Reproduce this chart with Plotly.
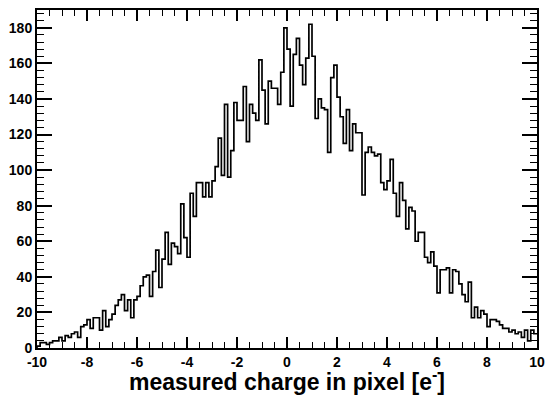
import plotly.graph_objects as go

bin_low = -10.0
bin_width = 0.125
counts = [
    1, 3, 3, 2, 3, 4, 4, 6,            # -10 .. -9
    4, 7, 6, 8, 9, 6, 12, 13,          # -9 .. -8
    16, 11, 17, 17, 10, 21, 12, 16,    # -8 .. -7
    19, 24, 27, 30, 21, 27, 17, 27,    # -7 .. -6
    29, 35, 40, 41, 29, 43, 55, 34,    # -6 .. -5
    50, 65, 47, 59, 57, 53, 81, 62,    # -5 .. -4
    51, 87, 74, 93, 93, 85, 93, 85,    # -4 .. -3
    94, 102, 118, 97, 137, 96, 111, 138,   # -3 .. -2
    128, 128, 147, 116, 137, 132, 128, 162,  # -2 .. -1
    145, 126, 150, 146, 146, 137, 155, 180,  # -1 .. 0
    168, 136, 165, 174, 159, 148, 163, 182,  # 0 .. 1
    164, 129, 140, 135, 134, 110, 152, 159,  # 1 .. 2
    141, 130, 115, 134, 111, 126, 121, 121,  # 2 .. 3
    86, 110, 113, 110, 108, 109, 93, 89,     # 3 .. 4
    94, 106, 87, 74, 93, 83, 67, 79,         # 4 .. 5
    77, 60, 65, 65, 51, 48, 54, 46,          # 5 .. 6
    31, 44, 44, 45, 31, 44, 43, 36,          # 6 .. 7
    30, 26, 37, 17, 23, 17, 21, 19,          # 7 .. 8
    12, 16, 16, 15, 13, 11, 11, 9,           # 8 .. 9
    10, 8, 9, 6, 10, 4, 10, 8,               # 9 .. 10
]
x_ticks = [-10, -8, -6, -4, -2, 0, 2, 4, 6, 8, 10]
y_ticks = [0, 20, 40, 60, 80, 100, 120, 140, 160, 180]
x_title = "measured charge in pixel [e<sup>-</sup>]"

edges = [bin_low + i * bin_width for i in range(len(counts) + 1)]
xs = [edges[0]] + edges
ys = [0] + counts + [counts[-1]]

fig = go.Figure()
fig.add_trace(go.Scatter(
    x=xs, y=ys, mode="lines", line=dict(color="black", width=1.7, shape="hv"),
    hoverinfo="skip", showlegend=False,
))

font = "Liberation Sans, Arial, Helvetica, sans-serif"
fig.update_layout(
    width=545, height=395,
    margin=dict(l=37, r=8, t=10, b=47),
    paper_bgcolor="white", plot_bgcolor="white",
    font=dict(family=font, color="black"),
    xaxis=dict(
        range=[-10, 10], tickvals=x_ticks, ticktext=[str(v) for v in x_ticks],
        ticks="inside", ticklen=11, tickwidth=1.5, tickcolor="black",
        showline=True, linecolor="black", linewidth=2, mirror="ticks",
        showgrid=False, zeroline=False, ticklabeloverflow="allow",
        automargin=False,
        tickfont=dict(size=14, family=font, weight="bold"),
        minor=dict(ticks="inside", dtick=0.5, tick0=0, ticklen=6, tickwidth=1.2,
                   tickcolor="black", showgrid=False),
        title=dict(text=x_title, font=dict(size=23, family=font, weight="bold")),
    ),
    yaxis=dict(
        range=[0, 190], tickvals=y_ticks, ticktext=[str(v) for v in y_ticks],
        ticks="inside", ticklen=15, tickwidth=1.5, tickcolor="black",
        showline=True, linecolor="black", linewidth=2, mirror="ticks",
        showgrid=False, zeroline=False, ticklabeloverflow="allow",
        automargin=False,
        tickfont=dict(size=14, family=font, weight="bold"),
        minor=dict(ticks="inside", dtick=4, tick0=0, ticklen=7, tickwidth=1.2,
                   tickcolor="black", showgrid=False),
    ),
)

fig.write_html("out.html")
